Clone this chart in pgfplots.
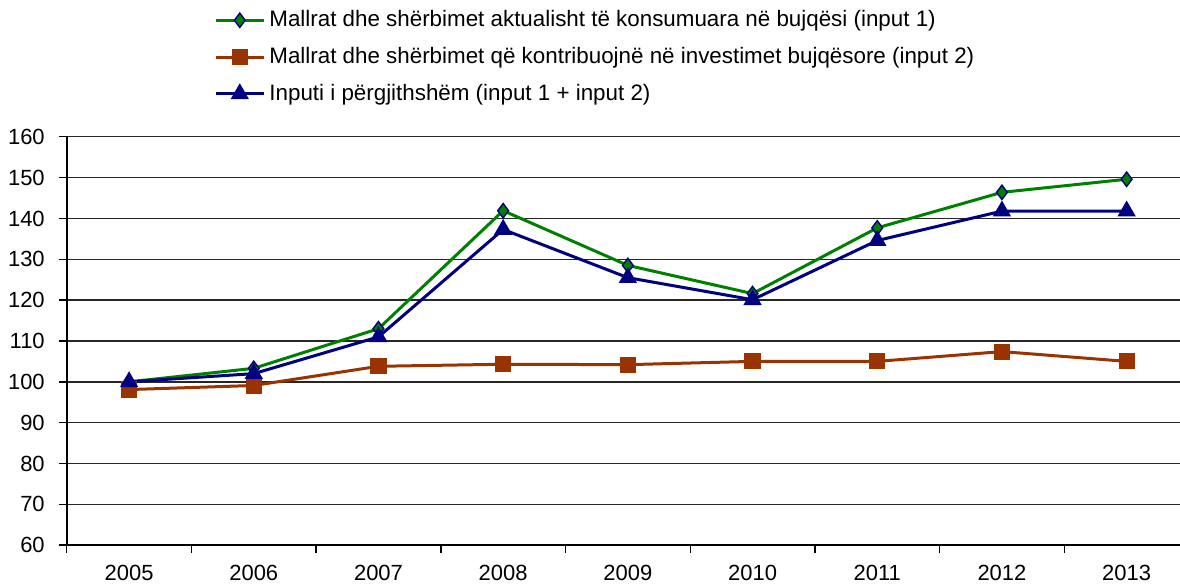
\documentclass[border=0pt]{standalone}
\usepackage{fontspec}
\setmainfont{Liberation Sans}
\usepackage{pgfplots}
\pgfplotsset{compat=1.18}
\definecolor{cgreen}{RGB}{0,128,0}
\definecolor{corange}{RGB}{153,51,0}
\definecolor{cnavy}{RGB}{0,0,128}
\begin{document}
\begin{tikzpicture}
\begin{axis}[
  scale only axis,
  width=562pt, height=204.5pt,
  xmin=-0.5, xmax=8.5, ymin=60, ymax=160,
  ytick={60,70,...,160},
  xtick={0,...,8},
  xticklabels={2005,2006,2007,2008,2009,2010,2011,2012,2013},
  minor xtick={-0.5,0.5,...,8.5},
  major x tick style={draw=none},
  minor tick length=4pt,
  major tick length=4pt,
  tick align=outside,
  axis x line*=bottom, axis y line*=left,
  axis line style={line width=0.9pt, black},
  tick style={black, line width=0.7pt},
  ymajorgrids, grid style={black!85, line width=0.7pt},
  tick label style={font=\fontsize{11}{12}\selectfont},
  /pgf/number format/assume math mode=true,
  yticklabel style={xshift=-3.5pt},
  xticklabel style={inner sep=0pt, text depth=1.5pt, yshift=-6pt},
  legend style={draw=none, fill=none, at={(rel axis cs:0.131,1)}, yshift=14.5pt, anchor=south west,
    font=\fontsize{11.2}{13}\selectfont, row sep=4.8pt, cells={anchor=west}, inner sep=0pt},
  legend cell align=left,
  legend image code/.code={
    \draw[#1, mark=none] (0cm,0cm) -- (0.85cm,0cm);
    \draw[#1, only marks] plot coordinates {(0.425cm,0cm)};
  },
]
\addplot[cgreen, line width=1.5pt, mark=diamond*, mark size=3.6pt, mark options={fill=cgreen, draw=cnavy, line width=0.7pt}]
 coordinates {(0,100) (1,103.3) (2,113) (3,141.9) (4,128.5) (5,121.6) (6,137.7) (7,146.4) (8,149.6)};
\addlegendentry{Mallrat dhe shërbimet aktualisht të konsumuara në bujqësi (input 1)}
\addplot[corange, line width=1.5pt, mark=square*, mark size=3.3pt, mark options={fill=corange, draw=corange}]
 coordinates {(0,98.1) (1,99.1) (2,103.8) (3,104.3) (4,104.2) (5,105) (6,105) (7,107.4) (8,105)};
\addlegendentry{Mallrat dhe shërbimet që kontribuojnë në investimet bujqësore (input 2)}
\addplot[cnavy, line width=1.5pt, mark=triangle*, mark size=3.8pt, mark options={fill=cnavy, draw=cnavy}]
 coordinates {(0,100) (1,102) (2,111) (3,137.3) (4,125.5) (5,120.1) (6,134.6) (7,141.8) (8,141.8)};
\addlegendentry{Inputi i përgjithshëm (input 1 + input 2)}
\coordinate (bbr) at (rel axis cs:0.992,0);
\coordinate (bbt) at ([yshift=68.5pt]rel axis cs:0,1);
\end{axis}
\pgfresetboundingbox
\path[use as bounding box] ([xshift=-0.7pt]current axis.outer south west) rectangle (bbr |- bbt);
\end{tikzpicture}
\end{document}
